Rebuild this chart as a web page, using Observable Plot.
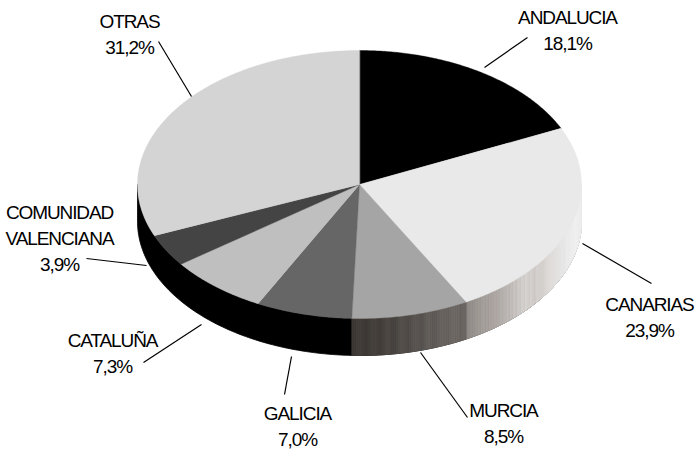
<!DOCTYPE html>
<html><head><meta charset="utf-8">
<style>html,body{margin:0;padding:0;background:#fff}svg{display:block}svg text{letter-spacing:-1.1px}</style>
<script src="https://cdn.jsdelivr.net/npm/d3@7"></script>
<script src="https://cdn.jsdelivr.net/npm/@observablehq/plot@0.6"></script>
</head><body>
<script>
const regions = ["ANDALUCIA","CANARIAS","MURCIA","GALICIA","CATALUÑA","COMUNIDAD\nVALENCIANA","OTRAS"];
const shares = [18.1,23.9,8.5,7.0,7.3,3.9,31.2];
const shareLabels = ["18,1%","23,9%","8,5%","7,0%","7,3%","3,9%","31,2%"];
const topColors = ["#000000","#e9e9e9","#a5a5a5","#666666","#bfbfbf","#444444","#d4d4d4"];
// side wall colour stops, by slice, in clockwise order (null: plain black wall)
const wallStops = [
  null,
  ["#e9e9e9","#ececec","#eeeeee","#f0f0f0","#eeeeee","#eaeaea","#e6e4e2","#dedad8","#d4d0cd","#d8d4d1","#c4bfbb","#b0aaa6","#a6a09c","#928c88"],
  ["#6f6965","#6b6662","#716c68","#68635f","#6b6662","#605b57","#66615d","#575350","#5d5854","#504b47","#56514d","#484440","#4e4945","#423e3a","#4a4541","#3c3834","#45403c","#3d3833"],
  null,null,null,null
];
// label layout, px from pie centre
const labelAt = [[208,-156],[290,131],[144,237],[-62,240],[-247,167],[-300,52],[-230,-152]];
const leaderFrom = [[125,-117],[223,59],[61,168],[-68,172],[-158,140],[-213,81],[-168,-88]];
const leaderTo = [[168,-147],[292,99],[108,233],[-75,210],[-216,178],[-273,74],[-201,-143]];

const rx = 222, ry = 134, depth = 37;
const pt = (deg, r = 1, drop = 0) => {
  const a = deg * Math.PI / 180;
  return [rx * r * Math.sin(a), -ry * r * Math.cos(a) + drop];
};
const total = d3.sum(shares);
let c = 0;
const slices = shares.map((s, i) => {
  const a0 = c / total * 360; c += s; const a1 = c / total * 360;
  return {i, a0, a1};
});
const tops = [], walls = [];
// solid black wall for the whole front half, tinted strips laid over it
for (let a = 90; a <= 270; a += 1) { const [x, y] = pt(a); walls.push({id: "base", x, y, fill: "#000"}); }
for (let a = 270; a >= 90; a -= 1) { const [x, y] = pt(a, 1, depth); walls.push({id: "base", x, y, fill: "#000"}); }
for (const {i, a0, a1} of slices) {
  tops.push({id: i, x: 0, y: 0, fill: topColors[i]});
  for (let a = a0; a < a1; a += 0.5) {
    const [x, y] = pt(a); tops.push({id: i, x, y, fill: topColors[i]});
  }
  const [x, y] = pt(a1); tops.push({id: i, x, y, fill: topColors[i]});
  const lo = Math.max(a0, 90), hi = Math.min(a1, 270);
  if (lo < hi && wallStops[i]) {
    const ramp = d3.piecewise(d3.interpolateRgb, wallStops[i]);
    const n = Math.ceil((hi - lo) / 0.5);
    for (let k = 0; k < n; k++) {
      const s0 = lo + (hi - lo) * k / n, s1 = lo + (hi - lo) * (k + 1) / n;
      const id = `${i}-${k}`, fill = ramp((k + 0.5) / n);
      for (const p of [pt(s0), pt(s1), pt(s1, 1, depth), pt(s0, 1, depth)])
        walls.push({id, x: p[0], y: p[1], fill});
    }
  }
}
const leaders = leaderFrom.map((p, i) => ({x1: p[0], y1: p[1], x2: leaderTo[i][0], y2: leaderTo[i][1]}));
const labels = regions.map((r, i) => ({x: labelAt[i][0], y: labelAt[i][1], text: `${r}\n${shareLabels[i]}`}));

const chart = Plot.plot({
  width: 698, height: 450,
  margin: 0,
  x: {domain: [-359, 339], range: [0, 698], axis: null},
  y: {domain: [-184, 266], range: [0, 450], axis: null},
  style: {background: "#fff"},
  marks: [
    Plot.line(walls, {x: "x", y: "y", z: "id", fill: d => d.fill, stroke: d => d.fill, strokeWidth: 0.8, curve: "linear-closed"}),
    Plot.line(tops, {x: "x", y: "y", z: "id", fill: d => d.fill, stroke: d => d.fill, strokeWidth: 0.4, curve: "linear-closed"}),
    Plot.link(leaders, {x1: "x1", y1: "y1", x2: "x2", y2: "y2", stroke: "#000", strokeWidth: 1.2}),
    Plot.text(labels, {x: "x", y: "y", text: "text", fontFamily: "Liberation Sans", fontSize: 19, lineHeight: 1.37, fill: "#000", textAnchor: "middle"})
  ]
});
document.body.append(chart);
</script>
</body></html>
